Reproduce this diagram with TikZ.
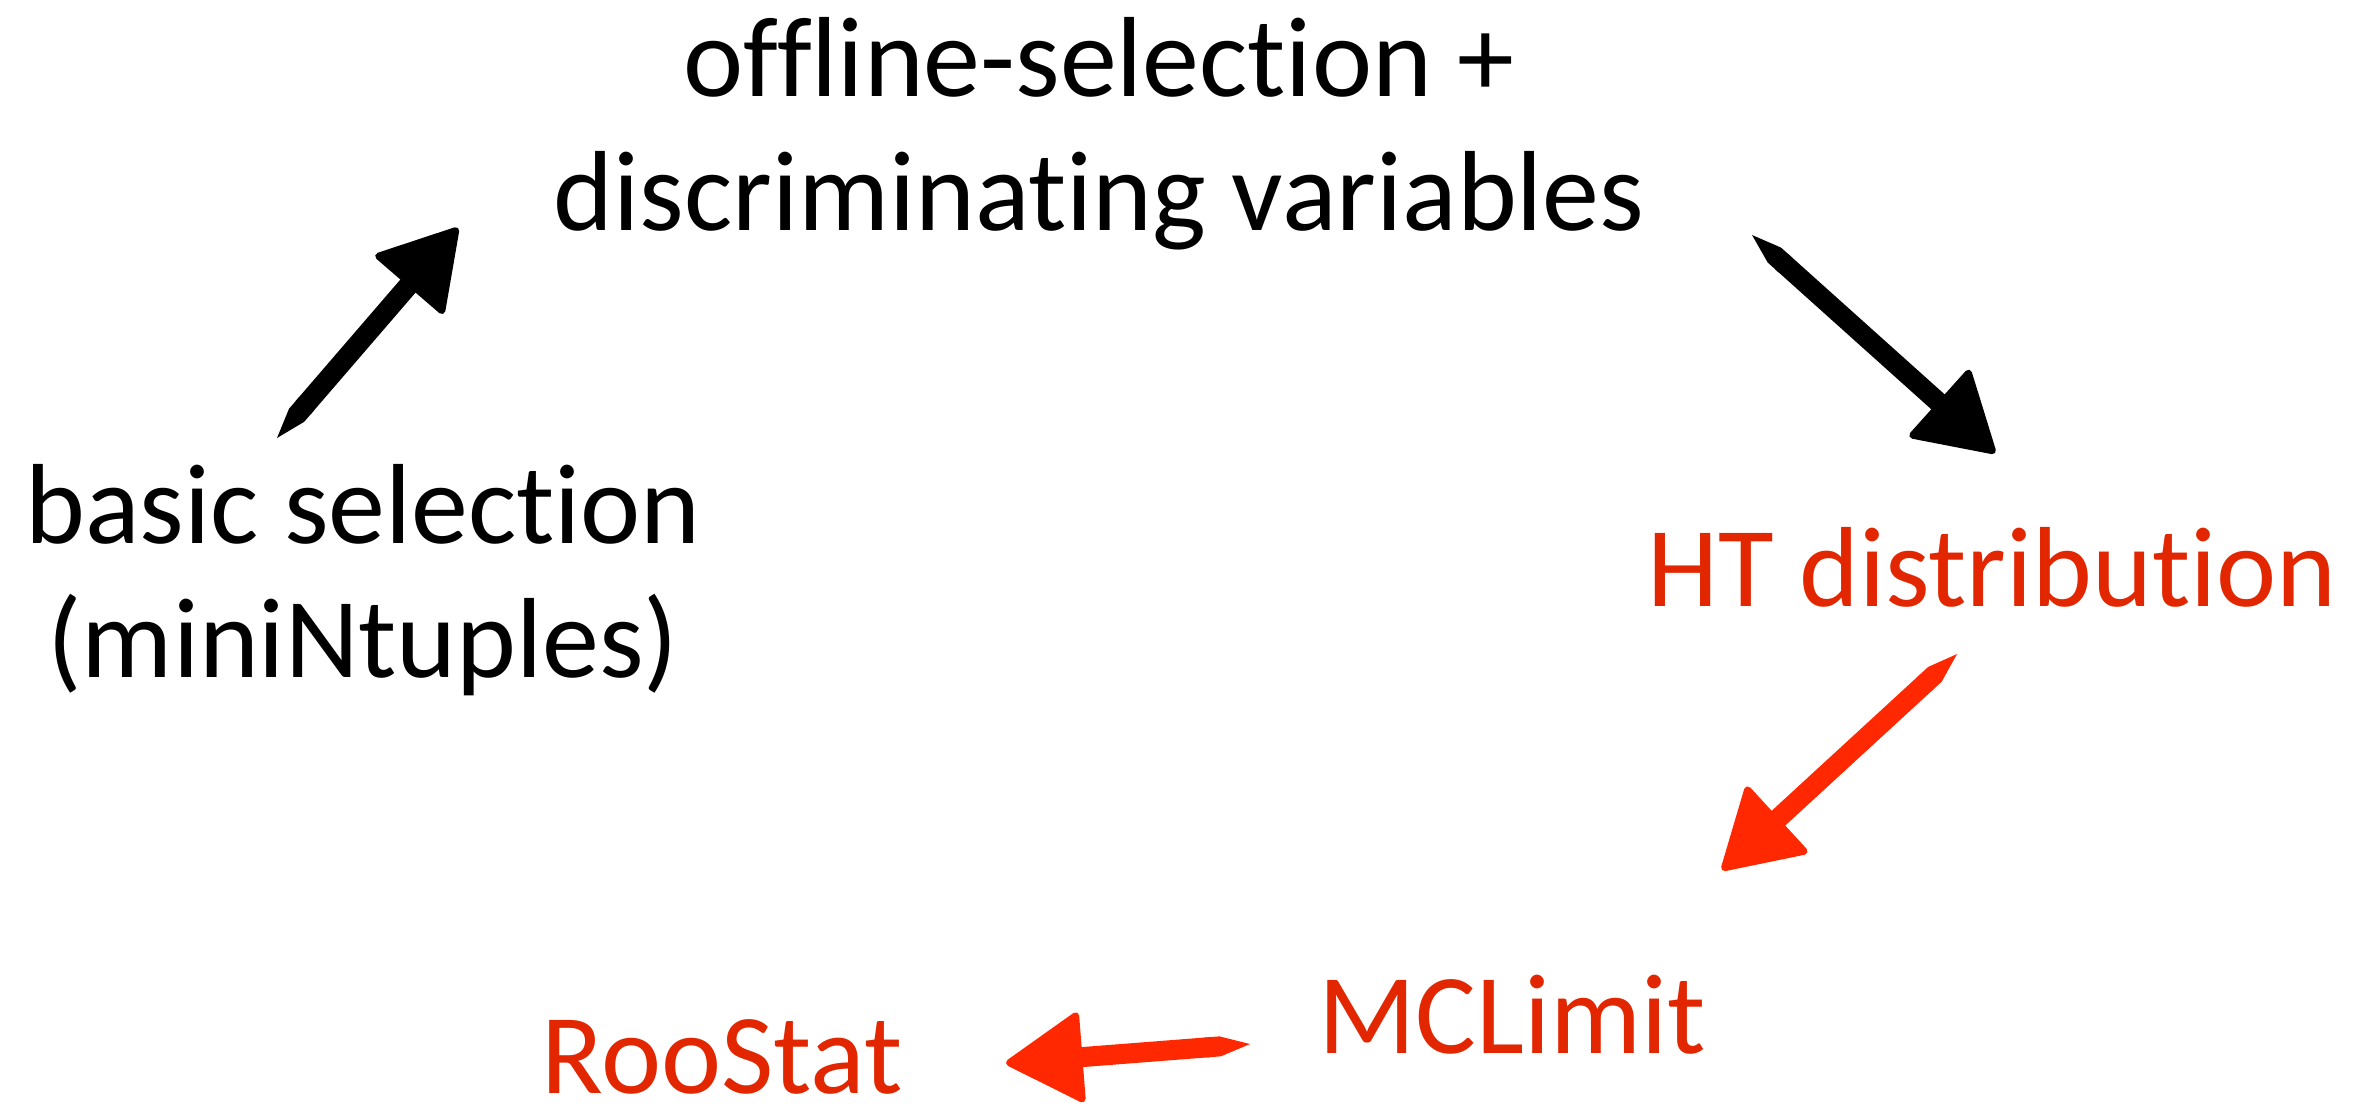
\documentclass[tikz,border=0pt]{standalone}
\usepackage{fontspec}
\setmainfont[Ligatures=NoCommon]{Carlito}
\usetikzlibrary{arrows.meta}
\definecolor{myred}{RGB}{226,38,0}
\definecolor{myarrowred}{RGB}{255,40,0}

\begin{document}
\begin{tikzpicture}[x=0.01cm,y=-0.01cm,
  every node/.style={inner sep=0pt,align=center,anchor=base,
    font=\fontsize{32.4}{38}\selectfont},
  stage/.style={text=black},
  limit/.style={text=myred},
  brush/.style={line width=0.2cm,
    arrows={Triangle Cap[length=0.3cm]-Triangle[length=0.8cm,width=0.94cm,round,line width=2pt]}},
  blackbrush/.style={brush,black},
  redbrush/.style={brush,myarrowred}
]
\useasboundingbox (0,0) rectangle (2370,1108);

% the selections (base = last line)
\node[stage] (basic) at (363,677) {basic selection\\(miniNtuples)};
\node[stage] (offline) at (1099,230) {offline-selection +\\discriminating variables};

% the limit tools
\node[limit] (ht) at (1992,606) {HT distribution};
\node[limit] (mclimit) at (1512,1053) {MCLimit};
\node[limit] (roostat) at (722,1093) {RooStat};

% the arrow ends
\coordinate (b1) at (277,438);  \coordinate (e1) at (458,228);
\coordinate (b2) at (1752,235); \coordinate (e2) at (1995,453);
\coordinate (b3) at (1957,654); \coordinate (e3) at (1722,870);
\coordinate (b4) at (1250,1044); \coordinate (e4) at (1006,1063);

% the arrows
\draw[blackbrush] (b1) -- (e1);
\draw[blackbrush] (b2) -- (e2);
\draw[redbrush] (b3) -- (e3);
\draw[redbrush] (b4) -- (e4);
\end{tikzpicture}
\end{document}
